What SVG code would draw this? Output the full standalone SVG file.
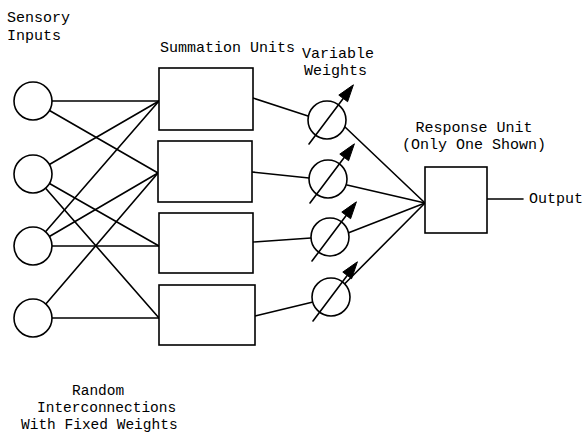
<svg xmlns="http://www.w3.org/2000/svg" xmlns:xlink="http://www.w3.org/1999/xlink" width="584" height="433" viewBox="0 0 584 433">
  <style>
    .ln { stroke: #000; stroke-width: 1.6; fill: none; stroke-linecap: round; }
    .box { stroke: #000; stroke-width: 1.6; fill: #fff; }
    .node { stroke: #000; stroke-width: 1.6; fill: #fff; }
    .lbl { font-family: "Liberation Mono", "DejaVu Sans Mono", monospace; font-size: 15px; fill: #000; }
    .sm { font-size: 14.5px; }
  </style>
  <defs>
    <!-- adjustable weight: circle with a diagonal arrow through it -->
    <g id="dial">
      <circle class="node" cx="0" cy="0" r="19"/>
      <line class="ln" x1="-18" y1="24" x2="16.2" y2="-21.6"/>
      <polygon points="26.4,-35.2 20.6,-18.3 11.8,-24.9" fill="#000" stroke="#000" stroke-width="1" stroke-linejoin="round"/>
    </g>
  </defs>
  <rect width="584" height="433" fill="#fff"/>

  <!-- connectors -->
  <g id="connectors">
    <!-- sensory inputs to summation units (fixed random wiring) -->
    <line class="ln" x1="52" y1="101" x2="159" y2="101"/>
    <line class="ln" x1="49.5" y1="110.5" x2="158" y2="173"/>
    <line class="ln" x1="49.4" y1="164.5" x2="159" y2="101"/>
    <line class="ln" x1="49.5" y1="183.5" x2="159" y2="246"/>
    <line class="ln" x1="45.6" y1="188.3" x2="159" y2="318"/>
    <line class="ln" x1="45.5" y1="231.7" x2="159" y2="101"/>
    <line class="ln" x1="49.4" y1="236.5" x2="158" y2="173"/>
    <line class="ln" x1="52" y1="246" x2="159" y2="246"/>
    <line class="ln" x1="45.4" y1="304.6" x2="158" y2="173"/>
    <line class="ln" x1="52" y1="318" x2="159" y2="318"/>
    <!-- summation units to variable weights -->
    <line class="ln" x1="253" y1="98" x2="308" y2="116"/>
    <line class="ln" x1="252" y1="172" x2="309" y2="178"/>
    <line class="ln" x1="253" y1="242" x2="311" y2="238"/>
    <line class="ln" x1="255" y1="316" x2="313" y2="302"/>
    <!-- variable weights to response unit -->
    <line class="ln" x1="345" y1="127" x2="425" y2="203"/>
    <line class="ln" x1="347" y1="185" x2="425" y2="203"/>
    <line class="ln" x1="348" y1="233" x2="425" y2="203"/>
    <line class="ln" x1="344.5" y1="284" x2="425" y2="203"/>
    <!-- output -->
    <line class="ln" x1="487" y1="199" x2="523" y2="199"/>
  </g>

  <!-- sensory inputs -->
  <g id="input-1"><circle class="node" cx="33" cy="101" r="19"/></g>
  <g id="input-2"><circle class="node" cx="33" cy="174" r="19"/></g>
  <g id="input-3"><circle class="node" cx="33" cy="246" r="19"/></g>
  <g id="input-4"><circle class="node" cx="33" cy="318" r="19"/></g>

  <!-- summation units -->
  <g id="sum-1"><rect class="box" x="159" y="68" width="94" height="62"/></g>
  <g id="sum-2"><rect class="box" x="158" y="141" width="94" height="61"/></g>
  <g id="sum-3"><rect class="box" x="159" y="213" width="94" height="60"/></g>
  <g id="sum-4"><rect class="box" x="159" y="285" width="96" height="60"/></g>

  <!-- variable weights -->
  <g id="weight-1" transform="translate(327,120)"><use xlink:href="#dial" href="#dial"/></g>
  <g id="weight-2" transform="translate(328,179)"><use xlink:href="#dial" href="#dial"/></g>
  <g id="weight-3" transform="translate(330,237)"><use xlink:href="#dial" href="#dial"/></g>
  <g id="weight-4" transform="translate(331,297)"><use xlink:href="#dial" href="#dial"/></g>

  <!-- response unit -->
  <g id="response"><rect class="box" x="425" y="167" width="62" height="66"/></g>

  <!-- labels -->
  <g id="labels">
    <text class="lbl" x="7" y="22">Sensory</text>
    <text class="lbl" x="7" y="40">Inputs</text>
    <text class="lbl" x="160" y="52">Summation Units</text>
    <text class="lbl" x="302" y="58">Variable</text>
    <text class="lbl" x="304" y="75">Weights</text>
    <text class="lbl" x="474" y="132" text-anchor="middle">Response Unit</text>
    <text class="lbl" x="474" y="149" text-anchor="middle">(Only One Shown)</text>
    <text class="lbl" x="529" y="203">Output</text>
    <text class="lbl sm" x="72" y="395">Random</text>
    <text class="lbl sm" x="37" y="412">Interconnections</text>
    <text class="lbl sm" x="21" y="429">With Fixed Weights</text>
  </g>
</svg>
